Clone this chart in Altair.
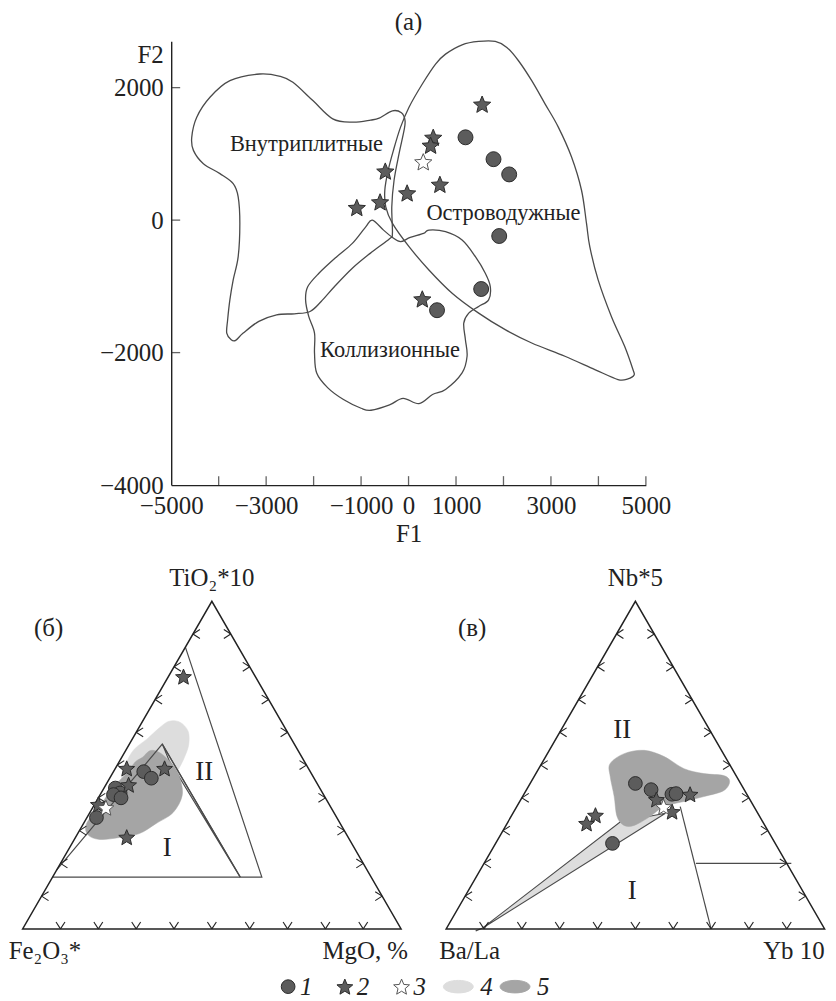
import math
import numpy as np
import pandas as pd
import altair as alt

FONT = "Liberation Serif"
INK = "#222222"
LINE = "#4a4a4a"
PT_FILL = "#5c5c5c"
PT_STROKE = "#2b2b2b"
LIGHT = "#dddddd"
DARK = "#a5a5a5"

# ============================ panel (a) data ============================
CIRC_F1 = [1200, 1790, 2120, 1910, 1530, 600]
CIRC_F2 = [1250, 920, 690, -240, -1040, -1360]
STAR_F1 = [1550, 520, 465, 660, -30, -490, -600, -1090, 290]
STAR_F2 = [1750, 1250, 1130, 540, 410, 740, 275, 190, -1190]
OPEN_F1 = [310]
OPEN_F2 = [880]

# field boundaries (a)
WP_F1 = [-3134, -2700, -2436, -2016, -1597, -1178, -800, -619, -339, -150, -74, -95, -200,
         -305, -353, -340, -400, -808, -1184, -1559, -1841, -2075, -2404, -2779, -3154,
         -3483, -3642, -3736, -3830, -3811, -3764, -3694, -3589, -3554, -3589, -3694,
         -3973, -4322, -4532, -4567, -4462, -4183, -3763]
WP_F2 = [2206, 2170, 2080, 1805, 1529, 1479, 1510, 1540, 1650, 1620, 1504, 1354, 1003,
         602, 201, -200, -280, -502, -727, -1003, -1229, -1379, -1414, -1429, -1529,
         -1705, -1815, -1805, -1705, -1504, -1204, -902, -551, -50, 351, 551,
         702, 852, 1053, 1253, 1554, 1855, 2105]
IA_F1 = [779, 1128, 1477, 1827, 2071, 2316, 2595, 2875, 3155, 3434, 3644, 3749, 3818,
         3994, 4273, 4552, 4727, 4750, 4622, 4412, 3924, 3294, 2595, 2036, 1477, 918,
         429, 10, -339, -480, -500, -430, -320, -170, 10, 290, 569]
IA_F2 = [2506, 2647, 2697, 2697, 2607, 2406, 2105, 1755, 1404, 952, 451, -50, -401,
         -902, -1454, -1905, -2256, -2340, -2395, -2406, -2256, -2055, -1855, -1654, -1404, -1103,
         -752, -401, -50, 200, 450, 750, 1050, 1400, 1705, 2055, 2356]
COL_F1 = [-762, -527, -339, -170, 36, 318, 429, 779, 1128, 1408, 1617, 1722, 1687, 1477,
          1268, 1163, 1198, 1233, 1128, 779, 505, 220, -115, -400, -790, -1000, -1371,
          -1700, -1935, -1981, -1981, -2103, -2169, -2122, -1888, -1512, -1184, -902]
COL_F2 = [0, -151, -261, -326, -261, -201, -150, -175, -301, -552, -802, -1003, -1203, -1303,
          -1404, -1554, -1805, -2055, -2306, -2556, -2632, -2770, -2690, -2790, -2870, -2840, -2708,
          -2532, -2307, -2006, -1705, -1454, -1204, -1003, -802, -552, -351, -101]

FIELD_NAMES = ["Внутриплитные", "Островодужные", "Коллизионные"]
FIELD_F1 = [-2150, 2000, -390]
FIELD_F2 = [1150, 100, -1960]

X_LABELS = [-5000, -3000, -1000, 0, 1000, 3000, 5000]
X_TICKS = [-4000, -3000, -2000, -1000, 0, 1000, 2000, 3000, 4000, 5000]
Y_LABELS = [-4000, -2000, 0, 2000]
Y_TICKS = [-2000, 0, 2000]

# ============================ ternary data ============================
# panel (б): TiO2*10 (top), MgO (right), Fe2O3* = remainder (left)
B_CIRC_TI = [48, 46, 43, 41.5, 41, 40, 34]
B_CIRC_MG = [8, 11, 3, 5, 3.5, 6, 2.5]
B_STAR_TI = [77, 49, 49, 28, 44, 38]
B_STAR_MG = [4, 3, 13, 13.5, 6, 1]
B_OPEN_TI = [37]
B_OPEN_MG = [3.5]
B_LIGHT_TI = [51.3, 54.9, 58.0, 61.3, 63.4, 63.1, 60.4, 56.4, 52.8, 49.2, 44.3, 39.8, 39.8, 45.8]
B_LIGHT_MG = [2.0, 2.1, 3.9, 5.4, 7.0, 10.0, 13.5, 15.7, 16.5, 16.8, 16.6, 13.6, 7.8, 3.2]
B_DARK_TI = [52.4, 54.3, 54.3, 52.8, 49.5, 45.8, 40.7, 35.5, 32.2, 29.1, 27.9, 27.3, 28.8,
             32.2, 37.3, 43.1, 47.3, 51.0]
B_DARK_MG = [5.5, 6.3, 8.1, 11.0, 15.3, 18.7, 21.8, 22.0, 19.2, 16.3, 11.6, 6.7, 2.8,
             0.8, 1.7, 2.2, 3.7, 4.3]
B_OUTER_TI = [86, 15.8, 15.8]
B_OUTER_MG = [0, 55.3, 0]
B_INNER_TI = [18, 56.4, 15.8]
B_INNER_MG = [0, 8.7, 49.6]
B_SLIVER_TI = [56.4, 15.8, 51.4]
B_SLIVER_MG = [8.7, 49.6, 13.0]
B_FIELD_LAB = ["II", "I"]
B_FIELD_TI = [48, 24.6]
B_FIELD_MG = [24, 25.9]

# panel (в): Nb*5 (top), Yb*10 (right), Ba/La = remainder (left)
V_CIRC_NB = [44.4, 42.5, 41.1, 41.3, 26.1]
V_CIRC_YB = [27.8, 32.9, 39.1, 40.1, 30.9]
V_STAR_NB = [41.1, 39.5, 35.8, 34.7, 32.2]
V_STAR_YB = [43.9, 35.8, 41.8, 22.1, 21.0]
V_OPEN_NB = [37.3]
V_OPEN_YB = [38.8]
V_DARK_NB = [50.4, 53.5, 54.5, 52.6, 48.9, 47.4, 46.8, 45.0, 42.2, 40.4, 38.9, 37.4, 34.3,
             31.6, 31.6, 34.3, 40.4, 46.5]
V_DARK_YB = [18.1, 20.3, 25.1, 31.3, 38.4, 44.4, 49.9, 52.4, 52.2, 47.9, 43.4, 38.9, 36.7,
             33.9, 31.2, 28.0, 24.2, 20.1]
V_WEDGE_NB = [0.3, 32.7, 35.3]
V_WEDGE_YB = [9.5, 29.7, 40.3]
V_TAIL_NB = [0.3, -0.6]
V_TAIL_YB = [9.5, 8.1]
V_LINE1_NB = [37.3, 0]
V_LINE1_YB = [43.2, 70]
V_LINE2_NB = [20, 20]
V_LINE2_YB = [56, 81.2]
V_FIELD_LAB = ["II", "I"]
V_FIELD_NB = [60.6, 11.5]
V_FIELD_YB = [16.2, 43.4]

TICK_PCT = [10, 20, 30, 40, 50, 60, 70, 80, 90]

LEG_KEYS = ["1", "2", "3", "4", "5"]

# ============================ shapes ============================
def star_path(r_in=0.45):
    pts = []
    for k in range(10):
        r = 1.0 if k % 2 == 0 else r_in
        a = math.pi / 2 - k * math.pi / 5
        pts.append((r * math.cos(a), -r * math.sin(a) + 0.095))
    return "M" + " L".join(f"{x:.4f},{y:.4f}" for x, y in pts) + " Z"


STAR = star_path()
ELLIPSE = "M-1,0 A1,0.42 0 1,0 1,0 A1,0.42 0 1,0 -1,0 Z"

# ============================ panel (a) chart ============================
XA = alt.X("F1:Q", scale=alt.Scale(domain=[-5000, 5000], nice=False, zero=False),
           axis=alt.Axis(values=X_LABELS, ticks=False, grid=False, domainColor=INK, domainWidth=1.4,
                         labelFont=FONT, labelFontSize=25, labelColor=INK, labelPadding=9,
                         labelFlush=False, labelOverlap=False, format="d",
                         title="F1", titleFont=FONT, titleFontSize=25, titleFontWeight="normal",
                         titleColor=INK, titlePadding=3))
YA = alt.Y("F2:Q", scale=alt.Scale(domain=[-4000, 2700], nice=False, zero=False),
           axis=alt.Axis(values=Y_LABELS, ticks=False, grid=False, domainColor=INK, domainWidth=1.4,
                         labelFont=FONT, labelFontSize=25, labelColor=INK, labelPadding=8,
                         labelOverlap=False, format="d",
                         title="F2", titleFont=FONT, titleFontSize=25, titleFontWeight="normal",
                         titleColor=INK, titleAngle=0, titleAlign="right", titleBaseline="middle",
                         titleX=-8, titleY=13))


def poly_a(name, xs, ys):
    return pd.DataFrame({"F1": xs, "F2": ys, "g": name, "i": np.arange(len(xs))})


polys_a = pd.concat([poly_a("wp", WP_F1, WP_F2), poly_a("ia", IA_F1, IA_F2),
                     poly_a("col", COL_F1, COL_F2)], ignore_index=True)

fields_a = alt.Chart(polys_a).mark_line(interpolate="cardinal-closed", color=LINE, strokeWidth=1.3).encode(
    x=XA, y=YA, detail="g:N", order="i:Q")

xt_a = alt.Chart(pd.DataFrame({"F1": X_TICKS, "F2": [-4000] * len(X_TICKS)})).mark_tick(
    orient="vertical", size=9, thickness=1.3, color=INK, yOffset=-4.5).encode(x=XA, y=YA)
yt_a = alt.Chart(pd.DataFrame({"F1": [-5000] * len(Y_TICKS), "F2": Y_TICKS})).mark_tick(
    orient="horizontal", size=9, thickness=1.3, color=INK, xOffset=4.5).encode(x=XA, y=YA)

circ_a = alt.Chart(pd.DataFrame({"F1": CIRC_F1, "F2": CIRC_F2})).mark_point(
    shape="circle", filled=True, size=225, color=PT_FILL, stroke=PT_STROKE, strokeWidth=1,
    opacity=1).encode(x=XA, y=YA)
star_a = alt.Chart(pd.DataFrame({"F1": STAR_F1, "F2": STAR_F2})).mark_point(
    shape=STAR, filled=True, size=330, color=PT_FILL, stroke=PT_STROKE, strokeWidth=1,
    opacity=1).encode(x=XA, y=YA)
open_a = alt.Chart(pd.DataFrame({"F1": OPEN_F1, "F2": OPEN_F2})).mark_point(
    shape=STAR, filled=True, size=330, color="white", stroke="#555555", strokeWidth=1,
    opacity=1).encode(x=XA, y=YA)
lab_a = alt.Chart(pd.DataFrame({"F1": FIELD_F1, "F2": FIELD_F2, "t": FIELD_NAMES})).mark_text(
    font=FONT, fontSize=22.5, color=INK, align="center", baseline="middle").encode(x=XA, y=YA, text="t:N")

chart_a = alt.layer(fields_a, xt_a, yt_a, circ_a, star_a, open_a, lab_a).properties(
    width=477, height=446,
    title=alt.TitleParams("(a)", font=FONT, fontSize=25, fontWeight="normal", color=INK,
                          offset=3, anchor="middle"))

spacer_a = alt.Chart(pd.DataFrame({"s": [0]})).mark_point(opacity=0).properties(width=91, height=10)
top_row = alt.hconcat(spacer_a, chart_a, spacing=0)

# ============================ ternary chart ============================
S3 = math.sqrt(3) / 2
B_OFF = 0.0
V_OFF = 1.1191
TX = alt.Scale(domain=[-0.0387, 2.1228], nice=False, zero=False)
TY = alt.Scale(domain=[-0.1, 0.989], nice=False, zero=False)


def tx(f="x"):
    return alt.X(f"{f}:Q", scale=TX, axis=None)


def ty(f="y"):
    return alt.Y(f"{f}:Q", scale=TY, axis=None)


def tern(top, right, off, **extra):
    t = np.asarray(top, float) / 100.0
    r = np.asarray(right, float) / 100.0
    d = pd.DataFrame({"x": off + r + t / 2.0, "y": t * S3, "i": np.arange(len(t))})
    for k, v in extra.items():
        d[k] = v
    return d


def poly_layer(df, fill, stroke, sw, interp):
    return alt.Chart(df).mark_line(fill=fill, stroke=stroke, strokeWidth=sw, interpolate=interp).encode(
        x=tx(), y=ty(), order="i:Q", detail="g:N")


def line_layer(df, color, sw, interp="linear"):
    return alt.Chart(df).mark_line(color=color, strokeWidth=sw, interpolate=interp).encode(
        x=tx(), y=ty(), order="i:Q", detail="g:N")


light_b = poly_layer(tern(B_LIGHT_TI, B_LIGHT_MG, B_OFF, g="lb"), LIGHT, LIGHT, 0.5, "cardinal-closed")
sliver_b = poly_layer(tern(B_SLIVER_TI, B_SLIVER_MG, B_OFF, g="sl"), LIGHT, LINE, 1.1, "linear-closed")
wedge_v = poly_layer(tern(V_WEDGE_NB, V_WEDGE_YB, V_OFF, g="wd"), LIGHT, LINE, 1.1, "linear-closed")
dark_b = poly_layer(tern(B_DARK_TI, B_DARK_MG, B_OFF, g="db"), DARK, DARK, 0.5, "cardinal-closed")
dark_v = poly_layer(tern(V_DARK_NB, V_DARK_YB, V_OFF, g="dv"), DARK, DARK, 0.5, "cardinal-closed")

field_lines = line_layer(pd.concat([
    tern(B_OUTER_TI, B_OUTER_MG, B_OFF, g="bo"),
    tern(B_INNER_TI, B_INNER_MG, B_OFF, g="bi"),
    tern(V_LINE1_NB, V_LINE1_YB, V_OFF, g="v1"),
    tern(V_LINE2_NB, V_LINE2_YB, V_OFF, g="v2"),
    tern(V_TAIL_NB, V_TAIL_YB, V_OFF, g="vt"),
], ignore_index=True), LINE, 1.2)

frames = line_layer(pd.concat([
    tern([0, 0, 100], [0, 100, 0], B_OFF, g="tb"),
    tern([0, 0, 100], [0, 100, 0], V_OFF, g="tv"),
], ignore_index=True), INK, 1.5, "linear-closed")

# arrow-like ticks every 10 %
AW, AH = 0.0118, 0.0184
rows = []
for off in (B_OFF, V_OFF):
    for p in TICK_PCT:
        f = p / 100.0
        bx, by = off + f, 0.0
        rows += [(bx, by, bx - AW, by + AH), (bx, by, bx + AW, by + AH)]
        lx, ly = off + f / 2.0, f * S3
        rows += [(lx, ly, lx + AH, ly + AW), (lx, ly, lx + AH, ly - AW)]
        rx, ry = off + 1 - f / 2.0, f * S3
        rows += [(rx, ry, rx - AH, ry + AW), (rx, ry, rx - AH, ry - AW)]
ticks_df = pd.DataFrame(rows, columns=["x", "y", "x2", "y2"])
ticks_t = alt.Chart(ticks_df).mark_rule(color=INK, strokeWidth=1.1).encode(
    x=tx(), y=ty(), x2="x2:Q", y2="y2:Q")

circ_t = alt.Chart(pd.concat([tern(B_CIRC_TI, B_CIRC_MG, B_OFF), tern(V_CIRC_NB, V_CIRC_YB, V_OFF)],
                             ignore_index=True)).mark_point(
    shape="circle", filled=True, size=190, color=PT_FILL, stroke=PT_STROKE, strokeWidth=1,
    opacity=1).encode(x=tx(), y=ty())
star_t = alt.Chart(pd.concat([tern(B_STAR_TI, B_STAR_MG, B_OFF), tern(V_STAR_NB, V_STAR_YB, V_OFF)],
                             ignore_index=True)).mark_point(
    shape=STAR, filled=True, size=280, color=PT_FILL, stroke=PT_STROKE, strokeWidth=1,
    opacity=1).encode(x=tx(), y=ty())
open_t = alt.Chart(pd.concat([tern(B_OPEN_TI, B_OPEN_MG, B_OFF), tern(V_OPEN_NB, V_OPEN_YB, V_OFF)],
                             ignore_index=True)).mark_point(
    shape=STAR, filled=True, size=280, color="white", stroke="#555555", strokeWidth=1,
    opacity=1).encode(x=tx(), y=ty())

field_lab = alt.Chart(pd.concat([
    tern(B_FIELD_TI, B_FIELD_MG, B_OFF, t=B_FIELD_LAB),
    tern(V_FIELD_NB, V_FIELD_YB, V_OFF, t=V_FIELD_LAB)], ignore_index=True)).mark_text(
    font=FONT, fontSize=27, color=INK, align="center", baseline="middle").encode(x=tx(), y=ty(), text="t:N")


def text_layer(df, **kw):
    return alt.Chart(df).mark_text(font=FONT, fontSize=25, color=INK, baseline="middle", **kw).encode(
        x=tx(), y=ty(), text="t:N")


apex_lab = text_layer(pd.concat([tern([100], [0], B_OFF, t=["TiO₂*10"]),
                                 tern([100], [0], V_OFF, t=["Nb*5"])], ignore_index=True),
                      align="center", dy=-23)
tag_lab = text_layer(pd.concat([tern([100], [0], B_OFF, t=["(б)"]),
                                tern([100], [0], V_OFF, t=["(в)"])], ignore_index=True),
                     align="center", dx=-164, dy=27)
bl_b = text_layer(tern([0], [0], B_OFF, t=["Fe₂O₃*"]), align="left", dx=-14, dy=22)
bl_v = text_layer(tern([0], [0], V_OFF, t=["Ba/La"]), align="left", dx=-7, dy=22)
br_b = text_layer(tern([0], [100], B_OFF, t=["MgO, %"]), align="right", dx=7, dy=22)
br_v = text_layer(tern([0], [100], V_OFF, t=["Yb 10"]), align="right", dx=0, dy=22)

tern_chart = alt.layer(light_b, sliver_b, wedge_v, dark_b, dark_v, field_lines, frames, ticks_t,
                       circ_t, star_t, open_t, field_lab, apex_lab, tag_lab, bl_b, bl_v, br_b, br_v
                       ).properties(width=822, height=414)

# ============================ legend ============================
leg_df = pd.DataFrame({"k": LEG_KEYS})
LX = alt.X("k:N", scale=alt.Scale(type="point", domain=LEG_KEYS, padding=0.5), axis=None)


def leg_sym(key, **kw):
    return alt.Chart(leg_df).transform_filter(alt.datum.k == key).mark_point(
        filled=True, opacity=1, strokeWidth=1, **kw).encode(x=LX)


leg = alt.layer(
    leg_sym("1", shape="circle", size=190, color=PT_FILL, stroke=PT_STROKE),
    leg_sym("2", shape=STAR, size=280, color=PT_FILL, stroke=PT_STROKE),
    leg_sym("3", shape=STAR, size=280, color="white", stroke="#555555"),
    leg_sym("4", shape=ELLIPSE, size=900, color=LIGHT, stroke=LIGHT),
    leg_sym("5", shape=ELLIPSE, size=900, color=DARK, stroke=DARK),
    alt.Chart(leg_df).transform_filter("datum.k <= '3'").mark_text(
        font=FONT, fontSize=25, fontStyle="italic", color=INK, align="left", baseline="middle",
        dx=12).encode(x=LX, text="k:N"),
    alt.Chart(leg_df).transform_filter("datum.k > '3'").mark_text(
        font=FONT, fontSize=25, fontStyle="italic", color=INK, align="left", baseline="middle",
        dx=22).encode(x=LX, text="k:N"),
).properties(width=285, height=10)

spacer_l = alt.Chart(pd.DataFrame({"s": [0]})).mark_point(opacity=0).properties(width=253, height=10)
legend_row = alt.hconcat(spacer_l, leg, spacing=0)

chart = alt.vconcat(top_row, tern_chart, legend_row, spacing=8).properties(
    padding=0).configure(font=FONT).configure_view(stroke=None)

chart.save("out.html", embed_options={"renderer": "svg", "actions": False})
